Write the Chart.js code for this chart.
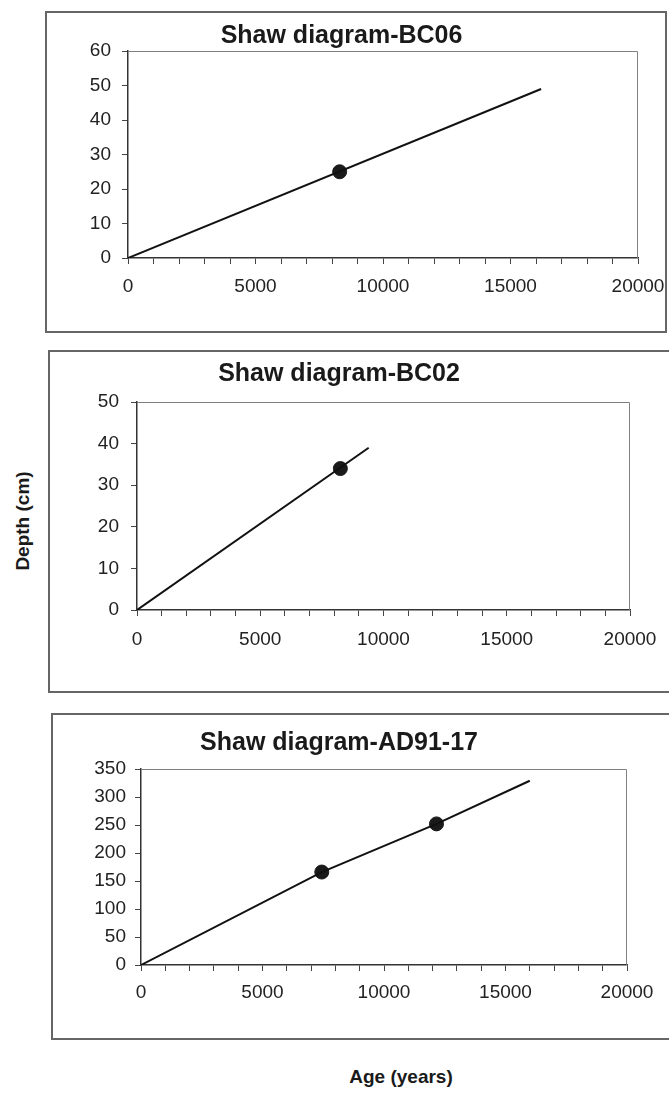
<!DOCTYPE html>
<html>
<head>
<meta charset="utf-8">
<script src="https://cdn.jsdelivr.net/npm/chart.js@4"></script>
<style>
  html, body { margin: 0; padding: 0; background: #fff; }
  body { width: 669px; height: 1096px; position: relative; overflow: hidden; font-family: "Liberation Sans", Arial, sans-serif; }
  .box { position: absolute; box-sizing: border-box; border: 2px solid #666; }
  canvas { position: absolute; }
  .axisTitle { position: absolute; font-weight: bold; font-size: 19px; color: #1a1a1a; white-space: nowrap; }
</style>
</head>
<body>
<div class="box" style="left:45px; top:11px; width:622px; height:322px;"></div>
<div class="box" style="left:48px; top:350px; width:640px; height:343px;"></div>
<div class="box" style="left:51px; top:713px; width:640px; height:327px;"></div>

<canvas id="chartBC06" width="622" height="322" style="left:45px; top:11px; width:622px; height:322px;"></canvas>
<canvas id="chartBC02" width="617" height="343" style="left:48px; top:350px; width:617px; height:343px;"></canvas>
<canvas id="chartAD9117" width="616" height="327" style="left:51px; top:713px; width:616px; height:327px;"></canvas>

<div class="axisTitle" id="depthLabel" style="left:23px; top:521px; transform: translate(-50%, -50%) rotate(-90deg);">Depth (cm)</div>
<div class="axisTitle" id="ageLabel" style="left:401px; top:1077px; transform: translate(-50%, -50%);">Age (years)</div>

<script>
// x axis (age, years)
const ageMin = 0;
const ageMax = 20000;
const ageMinorStep = 1000;
const ageLabelStep = 5000;

// BC06
const bc06Title = 'Shaw diagram-BC06';
const bc06LineAge = [0, 16200];
const bc06LineDepth = [0, 49];
const bc06DatedAge = [8300];
const bc06DatedDepth = [25];
const bc06DepthMax = 60;
const bc06DepthStep = 10;

// BC02
const bc02Title = 'Shaw diagram-BC02';
const bc02LineAge = [0, 9400];
const bc02LineDepth = [0, 39];
const bc02DatedAge = [8250];
const bc02DatedDepth = [34];
const bc02DepthMax = 50;
const bc02DepthStep = 10;

// AD91-17
const ad9117Title = 'Shaw diagram-AD91-17';
const ad9117LineAge = [0, 7440, 12160, 16000];
const ad9117LineDepth = [0, 166, 252, 329];
const ad9117DatedAge = [7440, 12160];
const ad9117DatedDepth = [166, 252];
const ad9117DepthMax = 350;
const ad9117DepthStep = 50;

const FONT = '"Liberation Sans", Arial, sans-serif';

const toPoints = (xs, ys) => xs.map((x, i) => ({ x: x, y: ys[i] }));

// thin frame on the top and right of the plot area (axes cover left and bottom)
const plotFrame = {
  id: 'plotFrame',
  beforeDatasetsDraw(chart) {
    const a = chart.chartArea;
    const ctx = chart.ctx;
    ctx.save();
    ctx.strokeStyle = '#808080';
    ctx.lineWidth = 1;
    ctx.beginPath();
    ctx.moveTo(a.left, a.top + 0.5);
    ctx.lineTo(a.right - 0.5, a.top + 0.5);
    ctx.lineTo(a.right - 0.5, a.bottom);
    ctx.stroke();
    ctx.restore();
  }
};

const makeChart = (canvasId, p) => {
  const ctx = document.getElementById(canvasId).getContext('2d');
  return new Chart(ctx, {
    type: 'scatter',
    data: {
      datasets: [
        {
          type: 'line',
          data: toPoints(p.lineAge, p.lineDepth),
          borderColor: '#111',
          borderWidth: 2,
          pointRadius: 0,
          tension: 0,
          fill: false,
        },
        {
          data: toPoints(p.datedAge, p.datedDepth),
          backgroundColor: '#1a1a1a',
          borderColor: '#1a1a1a',
          pointRadius: 7,
          pointHoverRadius: 7,
        },
      ],
    },
    options: {
      responsive: false,
      animation: false,
      devicePixelRatio: 1,
      layout: { padding: { left: 0, top: 0, right: p.right, bottom: 0 } },
      plugins: {
        legend: { display: false },
        tooltip: { enabled: false },
        title: {
          display: true,
          text: p.title,
          color: '#1a1a1a',
          font: { family: FONT, size: 25, weight: 'bold', lineHeight: 1 },
          padding: { top: p.titleTop, bottom: p.top - p.titleTop - 25 },
        },
      },
      scales: {
        x: {
          type: 'linear',
          min: ageMin,
          max: ageMax,
          afterFit: (scale) => {
            scale.height = p.bottom;
            // labels may overhang; keep the plot area where the reference has it
            scale.paddingLeft = 0;
            scale.paddingRight = 0;
          },
          grid: { drawOnChartArea: false, drawTicks: true, tickLength: 6, color: '#444' },
          border: { display: true, color: '#333', width: 1.5 },
          ticks: {
            stepSize: ageMinorStep,
            autoSkip: false,
            maxRotation: 0,
            minRotation: 0,
            padding: p.xPad,
            color: '#222',
            font: { family: FONT, size: 19 },
            callback: (v) => (v % ageLabelStep === 0 ? String(v) : ''),
          },
        },
        y: {
          type: 'linear',
          min: 0,
          max: p.depthMax,
          afterFit: (scale) => { scale.width = p.left; },
          grid: { drawOnChartArea: false, drawTicks: true, tickLength: 6, color: '#444' },
          border: { display: true, color: '#333', width: 1.5 },
          ticks: {
            stepSize: p.depthStep,
            padding: p.yPad,
            color: '#222',
            font: { family: FONT, size: 19 },
            callback: (v) => String(v),
          },
        },
      },
    },
    plugins: [plotFrame],
  });
};

makeChart('chartBC06', {
  title: bc06Title,
  lineAge: bc06LineAge, lineDepth: bc06LineDepth,
  datedAge: bc06DatedAge, datedDepth: bc06DatedDepth,
  depthMax: bc06DepthMax, depthStep: bc06DepthStep,
  left: 83, top: 40, right: 29, bottom: 75,
  titleTop: 13, xPad: 11.6, yPad: 11,
});

makeChart('chartBC02', {
  title: bc02Title,
  lineAge: bc02LineAge, lineDepth: bc02LineDepth,
  datedAge: bc02DatedAge, datedDepth: bc02DatedDepth,
  depthMax: bc02DepthMax, depthStep: bc02DepthStep,
  left: 89, top: 52, right: 35, bottom: 83,
  titleTop: 12, xPad: 12.6, yPad: 12,
});

makeChart('chartAD9117', {
  title: ad9117Title,
  lineAge: ad9117LineAge, lineDepth: ad9117LineDepth,
  datedAge: ad9117DatedAge, datedDepth: ad9117DatedDepth,
  depthMax: ad9117DepthMax, depthStep: ad9117DepthStep,
  left: 90, top: 56, right: 40, bottom: 75,
  titleTop: 17.5, xPad: 10.6, yPad: 9,
});
</script>
</body>
</html>
